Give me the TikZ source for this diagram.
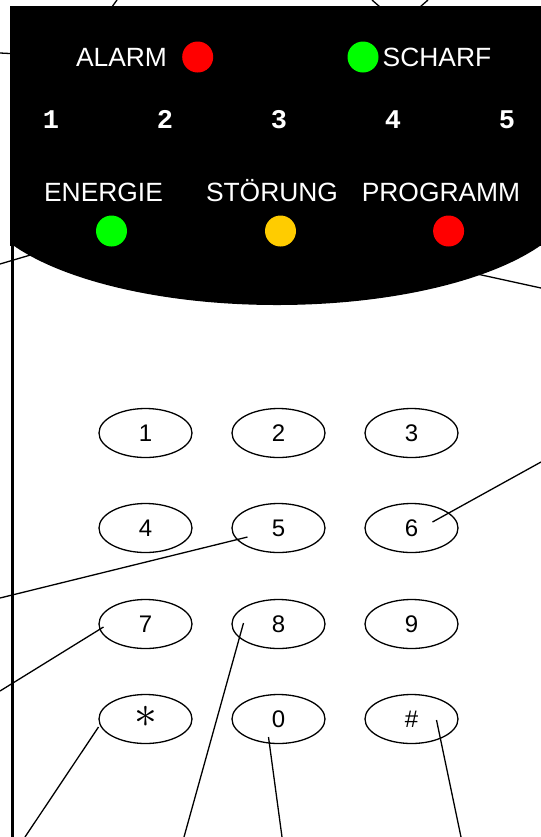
\documentclass[tikz,border=0pt]{standalone}
\usepackage{fontspec}
\setmainfont{Liberation Sans}
\newfontfamily\zonefont{Liberation Mono}
\usetikzlibrary{shapes.geometric, calc, backgrounds}

\definecolor{ledred}{RGB}{255,0,0}
\definecolor{ledgreen}{RGB}{0,255,0}
\definecolor{ledyellow}{RGB}{255,204,0}

\begin{document}
\begin{tikzpicture}[x=0.5pt, y=-0.5pt,
    key/.style={draw, ellipse, line width=0.65pt, minimum width=46.5pt, minimum height=24.5pt, inner sep=0pt, text height=8.4pt, text depth=0pt, font=\fontsize{12}{12}\selectfont},
    led/.style={circle, minimum size=15.5pt, inner sep=0pt},
    paneltext/.style={text=white, anchor=base, inner sep=0pt, font=\fontsize{13.2}{13.2}\selectfont},
    zonetext/.style={text=white, anchor=base, inner sep=0pt, font=\zonefont\bfseries\fontsize{13.5}{13.5}\selectfont},
    leader/.style={line width=0.65pt}]
        \useasboundingbox (0,0) rectangle (541,837);

        % keypad
        \node[key] (k1) at (145.5,433) {1};
        \node[key] (k2) at (278.5,433) {2};
        \node[key] (k3) at (411.5,433) {3};
        \node[key] (k4) at (145.5,528) {4};
        \node[key] (k5) at (278.5,528) {5};
        \node[key] (k6) at (411.5,528) {6};
        \node[key] (k7) at (145.5,624) {7};
        \node[key] (k8) at (278.5,624) {8};
        \node[key] (k9) at (411.5,624) {9};
        \node[key] (kstar) at (145.5,719) {\scalebox{1.9}{$\ast$}};
        \node[key] (k0) at (278.5,719) {0};
        \node[key] (khash) at (411.5,719) {\#};

        % display lamps and labels
        \node[paneltext] (alarmtxt) at (121.5,66) {ALARM};
        \node[led, fill=ledred] (alarm) at (197.7,57) {};
        \node[led, fill=ledgreen] (scharf) at (363,57) {};
        \node[paneltext] (scharftxt) at (437,66) {SCHARF};

        \node[zonetext] (z1) at (51,128) {1};
        \node[zonetext] (z2) at (165,128) {2};
        \node[zonetext] (z3) at (279,128) {3};
        \node[zonetext] (z4) at (393,128) {4};
        \node[zonetext] (z5) at (507,128) {5};

        \node[paneltext] (energietxt) at (103.5,201) {ENERGIE};
        \node[paneltext] (stoertxt) at (272,201) {STÖRUNG};
        \node[paneltext] (progtxt) at (441,201) {PROGRAMM};
        \node[led, fill=ledgreen] (energie) at (111.5,231) {};
        \node[led, fill=ledyellow] (stoer) at (280.5,231) {};
        \node[led, fill=ledred] (prog) at (448.6,231) {};

        % housing edge
        \coordinate (hstart) at (12.5,243);
        \coordinate (hend) at (12.5,837);
        \draw[line width=1.5pt] (hstart) -- (hend);

        % free ends of the leaders
        \coordinate (eal) at (0,53);
        \coordinate (etl) at (117,0);
        \coordinate (ets) at (372,0);
        \coordinate (etg) at (428,0);
        \coordinate (een) at (0,264);
        \coordinate (est) at (541,288);
        \coordinate (e6) at (541,462);
        \coordinate (e5) at (0,598);
        \coordinate (e7) at (0,691);
        \coordinate (estar) at (25,837);
        \coordinate (e8) at (184,837);
        \coordinate (e0) at (282,837);
        \coordinate (ehash) at (461,837);

        % leaders to the keys
        \draw[leader] ($(k6)+(21,-6)$) -- (e6);
        \draw[leader] ($(k5)+(-31,9)$) -- (e5);
        \draw[leader] ($(k7)+(-42,3)$) -- (e7);
        \draw[leader] ($(kstar)+(-47,8)$) -- (estar);
        \draw[leader] ($(k8)+(-35,-1)$) -- (e8);
        \draw[leader] ($(k0)+(-10,18)$) -- (e0);
        \draw[leader] ($(khash)+(25,1)$) -- (ehash);

        \begin{pgfonlayer}{background}
            % leaders to the display, partly hidden by it
            \draw[leader] (eal) -- (alarmtxt.west);
            \draw[leader] (etl) -- (alarmtxt.west);
            \draw[leader] (ets) -- (scharftxt);
            \draw[leader] (etg) -- (scharf);
            \draw[leader] (een) -- (energie);
            \draw[leader] (est) -- (stoer);
            % display
            \begin{scope}
                \clip (10,6) rectangle (541,420);
                \fill[black] (10,6) rectangle (541,246);
                \fill[black] (277,191) ellipse (300 and 114);
            \end{scope}
        \end{pgfonlayer}
\end{tikzpicture}
\end{document}
